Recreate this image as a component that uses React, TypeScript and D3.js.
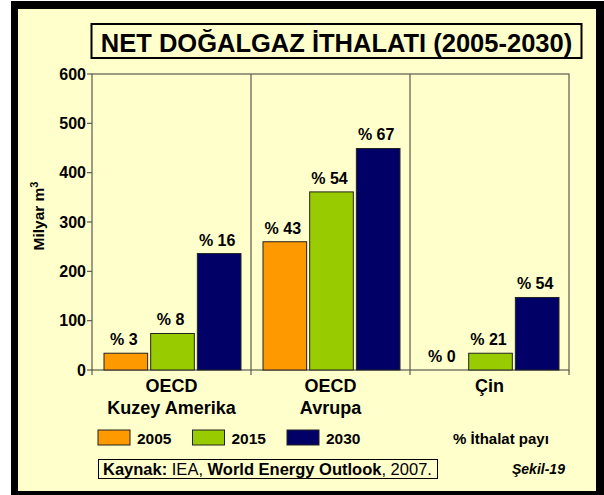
import React from 'react';
import * as d3 from 'd3';

// chart data
const categories = ['OECD\nKuzey Amerika', 'OECD\nAvrupa', 'Çin'];
const years = ['2005', '2015', '2030'];
const values2005 = [34, 260, 0];
const values2015 = [74, 361, 34];
const values2030 = [236, 449, 147];
const shares2005 = ['% 3', '% 43', '% 0'];
const shares2015 = ['% 8', '% 54', '% 21'];
const shares2030 = ['% 16', '% 67', '% 54'];
const yTicks = [0, 100, 200, 300, 400, 500, 600];

const colors = ['#FF9900', '#99CC00', '#000066'];
const cream = '#FFFFCC';
const axisColor = '#5a5a50';
const font = '"Liberation Sans", Arial, sans-serif';

const W = 604, H = 495;
const plot = { left: 92, right: 569, top: 74, bottom: 370 };

const App: React.FC = () => {
  const series = [values2005, values2015, values2030];
  const shares = [shares2005, shares2015, shares2030];

  const x0 = d3.scaleBand<string>().domain(categories).range([plot.left, plot.right]);
  const x1 = d3.scaleBand<string>().domain(years).range([12, x0.bandwidth() - 10]).paddingInner(0.065);
  const y = d3.scaleLinear().domain([0, 600]).range([plot.bottom, plot.top]);

  return (
    <div style={{ position: 'fixed', left: 0, top: 0 }}>
      <svg width={W} height={H} style={{ display: 'block', fontFamily: font }}>
        {/* frame */}
        <rect x={0} y={0} width={W} height={H} fill="#fff" />
        <rect x={11} y={1} width={593} height={494} fill="#000" />
        <rect x={18} y={9} width={578} height={482} fill={cream} />

        {/* title */}
        <rect x={91.5} y={24} width={490} height={34} fill={cream} stroke="#000" strokeWidth={2} />
        <text x={336.5} y={52} textAnchor="middle" fontSize={25.5} fontWeight="bold" fill="#000">
          NET DOĞALGAZ İTHALATI (2005-2030)
        </text>

        {/* plot frame */}
        <rect x={plot.left} y={plot.top} width={plot.right - plot.left} height={plot.bottom - plot.top}
          fill="none" stroke={axisColor} strokeWidth={1.2} />
        {categories.slice(1).map((c) => (
          <line key={c} x1={x0(c)} x2={x0(c)} y1={plot.top} y2={plot.bottom + 5} stroke={axisColor} strokeWidth={1.2} />
        ))}
        <line x1={plot.right} x2={plot.right} y1={plot.bottom} y2={plot.bottom + 5} stroke={axisColor} strokeWidth={1.2} />
        <line x1={plot.left} x2={plot.left} y1={plot.bottom} y2={plot.bottom + 5} stroke={axisColor} strokeWidth={1.2} />

        {/* y axis */}
        {yTicks.map((t) => (
          <g key={t}>
            <line x1={plot.left - 5} x2={plot.left} y1={y(t)} y2={y(t)} stroke={axisColor} strokeWidth={1.2} />
            <text x={plot.left - 6} y={y(t) + 5.5} textAnchor="end" fontSize={16} fontWeight="bold" fill="#000">
              {t}
            </text>
          </g>
        ))}
        <text transform="translate(44,216) rotate(-90)" textAnchor="middle" fontSize={15.5} fontWeight="bold" fill="#000">
          Milyar m<tspan fontSize={11} dy={-6}>3</tspan>
        </text>

        {/* bars */}
        {categories.map((c, i) => (
          <g key={c} transform={`translate(${x0(c)},0)`}>
            {years.map((yr, j) => {
              const v = series[j][i];
              const bx = x1(yr)!;
              return (
                <g key={yr}>
                  {v > 0 && (
                    <rect x={bx} y={y(v)} width={x1.bandwidth()} height={y(0) - y(v)}
                      fill={colors[j]} stroke="#222" strokeWidth={1} />
                  )}
                  <text x={bx + x1.bandwidth() / 2 - 2} y={y(v) - 8} textAnchor="middle"
                    fontSize={16} fontWeight="bold" fill="#000">
                    {shares[j][i]}
                  </text>
                </g>
              );
            })}
          </g>
        ))}

        {/* category labels */}
        {categories.map((c) => (
          <text key={c} x={x0(c)! + x0.bandwidth() / 2} y={392} textAnchor="middle" fontSize={18} fontWeight="bold" fill="#000">
            {c.split('\n').map((line, k) => (
              <tspan key={k} x={x0(c)! + x0.bandwidth() / 2} dy={k === 0 ? 0 : 22}>{line}</tspan>
            ))}
          </text>
        ))}

        {/* legend */}
        {years.map((yr, j) => (
          <g key={yr} transform={`translate(${98 + j * 94.5},430)`}>
            <rect x={0} y={0} width={32} height={15} fill={colors[j]} stroke="#222" strokeWidth={1} />
            <text x={39} y={14} fontSize={15.5} fontWeight="bold" fill="#000">{yr}</text>
          </g>
        ))}
        <text x={453} y={444} fontSize={15} fontWeight="bold" fill="#000">% İthalat payı</text>

        {/* source */}
        <rect x={98.5} y={459.5} width={339} height={19} fill={cream} stroke="#000" strokeWidth={1} />
        <text x={103} y={474.5} fontSize={16.5} fill="#000">
          <tspan fontWeight="bold">Kaynak:</tspan> IEA, <tspan fontWeight="bold">World Energy Outlook</tspan>, 2007.
        </text>
        <text x={512} y={474} fontSize={14} fontWeight="bold" fontStyle="italic" fill="#000">Şekil-19</text>
      </svg>
    </div>
  );
};

export default App;
